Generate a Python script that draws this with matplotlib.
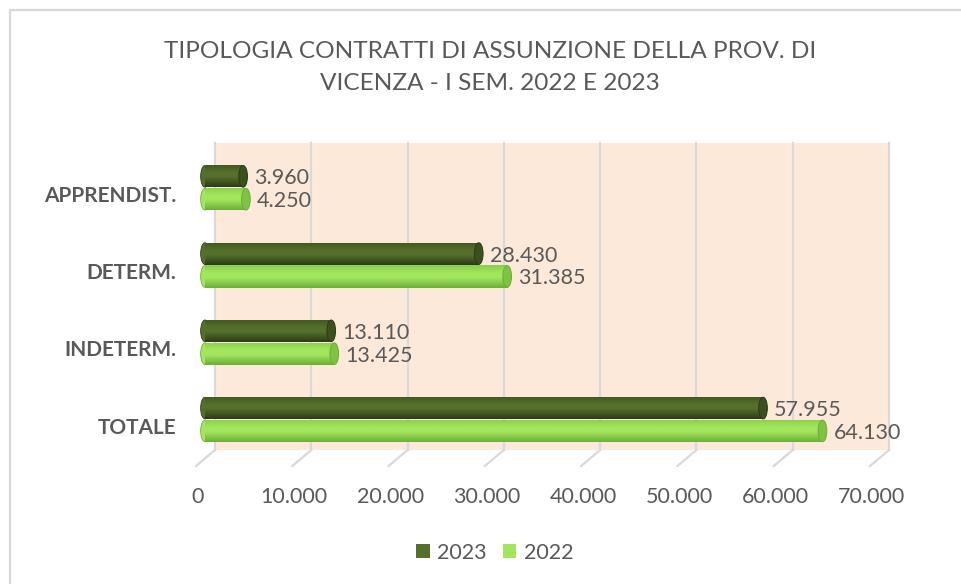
import numpy as np
import matplotlib
matplotlib.use("Agg")
import matplotlib.pyplot as plt
from matplotlib.patches import Rectangle, Ellipse
from matplotlib.lines import Line2D
from matplotlib.transforms import (IdentityTransform, blended_transform_factory,
                                   offset_copy, Affine2D)

# ---------------- data ----------------
categories = ["TOTALE", "INDETERM.", "DETERM.", "APPRENDIST."]
values_2023 = [57955, 13110, 28430, 3960]
values_2022 = [64130, 13425, 31385, 4250]
series_names = ["2023", "2022"]
x_ticks = [0, 10000, 20000, 30000, 40000, 50000, 60000, 70000]
x_tick_labels = ["0", "10.000", "20.000", "30.000", "40.000", "50.000", "60.000", "70.000"]
title_lines = ["TIPOLOGIA CONTRATTI DI ASSUNZIONE DELLA PROV. DI",
               "VICENZA - I SEM. 2022 E 2023"]

# ---------------- style ----------------
FONT = "Lato"
TXT = "#595959"
W, H = 962, 584
DARK = dict(top="#40561f", mid="#55702d", bot="#2c3b15", cap="#3b501d")
LIGHT = dict(top="#8acd4b", mid="#a2e65e", bot="#6cae38", cap="#80c244")
WALL = "#fde9d9"
GRID = "#d9d9d9"

fig = plt.figure(figsize=(W / 100, H / 100), dpi=100)
fig.patch.set_facecolor("white")

# axes = the plane of the bars (pixel geometry)
ax = fig.add_axes([205 / W, (H - 466) / H, 674 / W, 323 / H])
ax.set_xlim(0, 70000)
ax.set_ylim(-0.602, 3.58)
ax.axis("off")

ident = IdentityTransform()
back = blended_transform_factory(offset_copy(ax.transData, fig=fig, x=10, y=0, units="dots"), ident)

# back wall + gridlines
ax.add_artist(Rectangle((x_ticks[0], H - 450), x_ticks[-1] - x_ticks[0], 307,
                        transform=back, facecolor=WALL, edgecolor="none",
                        zorder=0, clip_on=False))
for v in x_ticks:
    ax.add_artist(Line2D([v, v], [H - 450, H - 143], transform=back, color=GRID,
                         lw=1.6, zorder=0.5, clip_on=False))

# floor diagonal tick lines (sheared)
shear = Affine2D(np.array([[1, 19 / 16, -9 - 19 / 16 * (H - 466)], [0, 1, 0], [0, 0, 1]]))
floor = blended_transform_factory(ax.transData, ident) + shear
for v in x_ticks:
    ax.add_artist(Line2D([v, v], [H - 466, H - 450], transform=floor, color=GRID,
                         lw=1.6, zorder=0.5, clip_on=False))

# tick labels
tick_tr = blended_transform_factory(offset_copy(ax.transData, fig=fig, x=-7, y=0, units="dots"), ident)
for v, lab in zip(x_ticks, x_tick_labels):
    ax.text(v, H - 497, lab, transform=tick_tr, ha="center", va="center",
            fontsize=15.5, color=TXT, family=FONT, clip_on=False)

# bars
y = np.arange(len(categories))
h = 0.286
off = 0.148
cap_w = 900


def gradient(c):
    cols = [c["top"], c["mid"], c["mid"], c["bot"]]
    rgb = np.array([matplotlib.colors.to_rgb(k) for k in cols])
    t = np.linspace(0, 1, 64)
    pos = np.array([0, 0.35, 0.55, 1.0])
    arr = np.stack([np.interp(t, pos, rgb[:, i]) for i in range(3)], axis=-1)
    return arr[:, None, :]


for vals, sgn, c in [(values_2023, +1, DARK), (values_2022, -1, LIGHT)]:
    bars = ax.barh(y + sgn * off, vals, height=h, color=c["mid"], edgecolor="none", zorder=2)
    g = gradient(c)
    for b in bars:
        x0, y0, bw, bh = b.get_x(), b.get_y(), b.get_width(), b.get_height()
        # left rounded end
        ax.add_patch(Ellipse((x0, y0 + bh / 2), cap_w, bh * 0.98, facecolor=c["mid"],
                             edgecolor=c["bot"], lw=0.6, zorder=1.5, clip_on=False))
        im = ax.imshow(g, extent=[x0, x0 + bw, y0, y0 + bh], aspect="auto",
                       zorder=2.5, interpolation="bilinear")
        im.set_clip_path(b)
        # right end cap
        ax.add_patch(Ellipse((x0 + bw, y0 + bh / 2), cap_w, bh * 0.98, facecolor=c["cap"],
                             edgecolor=c["bot"], lw=0.7, zorder=3, clip_on=False))
    lab_tr = offset_copy(ax.transData, fig=fig, x=11, y=-2, units="dots")
    for b, v in zip(bars, vals):
        ax.text(b.get_x() + b.get_width(), b.get_y() + b.get_height() / 2,
                f"{v:,}".replace(",", "."), transform=lab_tr, ha="left", va="center",
                fontsize=15.5, color=TXT, family=FONT, zorder=4)

ax.set_xlim(0, 70000)
ax.set_ylim(-0.602, 3.58)

# category labels
cat_tr = blended_transform_factory(ident, offset_copy(ax.transData, fig=fig, x=0, y=-8, units="dots"))
for yi, cat in zip(y, categories):
    ax.text(176, yi, cat, transform=cat_tr, ha="right", va="center", fontsize=15,
            fontweight="bold", color=TXT, family=FONT, clip_on=False)

# title
for i, line in enumerate(title_lines):
    fig.text(490 / W, 1 - (52 + 31 * i) / H, line, ha="center", va="center",
             fontsize=17.6, color=TXT, family=FONT)

# legend
handles = [Rectangle((0, 0), 1, 1, facecolor=DARK["mid"], edgecolor="none"),
           Rectangle((0, 0), 1, 1, facecolor=LIGHT["mid"], edgecolor="none")]
fig.legend(handles, series_names, loc="center", bbox_to_anchor=(495 / W, 1 - 553 / H),
           ncol=2, frameon=False, prop=dict(family=FONT, size=15.5),
           handlelength=0.62, handleheight=0.62, handletextpad=0.35,
           columnspacing=0.75, labelcolor=TXT)

# outer chart border
fig.add_artist(Rectangle((10, -20), 1000, H - 10 + 20, transform=ident,
                         facecolor="none", edgecolor="#d9d9d9", lw=1.6))

fig.savefig("out.png", dpi=100)
